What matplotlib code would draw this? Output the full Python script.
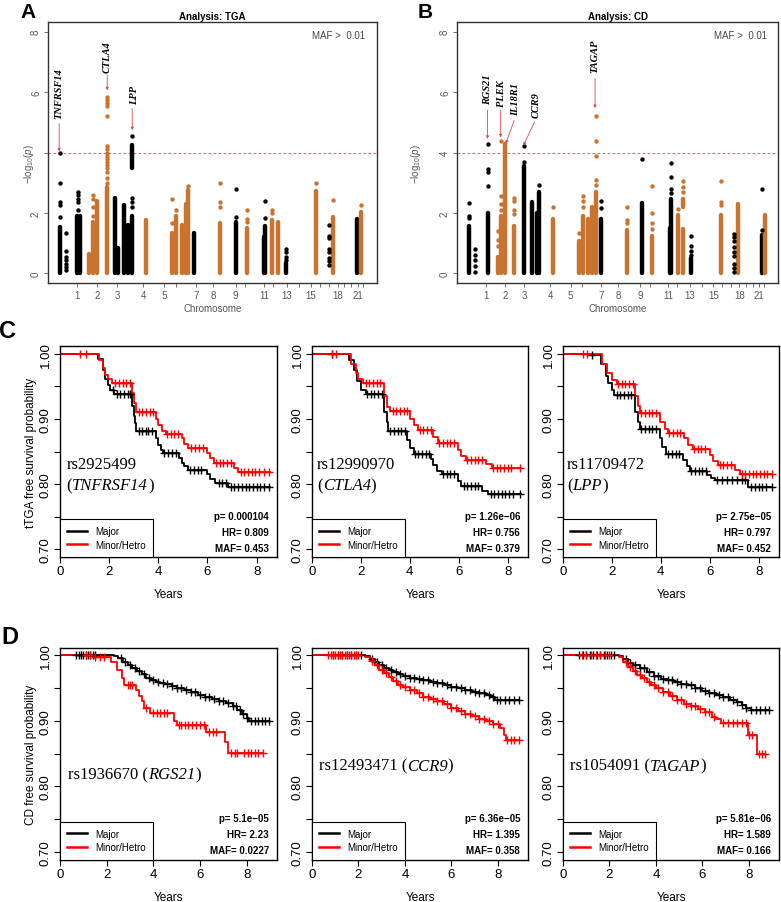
import numpy as np
import matplotlib
matplotlib.use('Agg')
import matplotlib.pyplot as plt
from matplotlib.lines import Line2D

plt.rcParams['font.family'] = ['Liberation Sans', 'DejaVu Sans']
plt.rcParams['mathtext.fontset'] = 'custom'
plt.rcParams['mathtext.rm'] = 'Liberation Sans'
plt.rcParams['mathtext.it'] = 'Liberation Sans:italic'

# ---------------- Manhattan data ----------------
chrom_pos = [8.9, 15.0, 21.0, 29.0, 35.4, 38.9, 45.0, 50.3, 57.0, 60.0, 65.8,
             68.5, 72.5, 76.2, 79.9, 82.6, 85.4, 88.0, 90.1, 92.1, 94.1, 95.6]
chrom_labels = ['1', '2', '3', '4', '5', '', '7', '8', '9', '', '11', '', '13',
                '', '15', '', '', '18', '', '', '21', '']

A_col_x = [3.5, 8.9, 9.8, 12.6, 13.8, 15.0, 18.0, 20.4, 21.4, 23.2, 24.4, 25.6,
           25.6, 29.7, 37.8, 38.9, 40.6, 42.0, 42.7, 44.5, 52.4, 57.1, 60.4,
           65.7, 66.1, 68.2, 70.0, 72.2, 81.4, 86.7, 94.0, 95.0]
A_col_lo = [0, 0, 0, 0, 0, 0, 0, 0, 0, 0, 0, 0, 3.5, 0, 0, 0, 0, 0, 0, 0, 0, 0,
            0, 0, 0, 0, 0, 0, 0, 0, 0, 0]
A_col_hi = [1.55, 1.9, 1.9, 0.65, 1.7, 2.4, 2.85, 2.5, 0.85, 2.25, 1.6, 1.9,
            4.25, 1.75, 1.35, 1.9, 1.6, 2.3, 2.75, 1.35, 1.65, 1.7, 1.5, 1.2,
            1.58, 1.76, 1.69, 0.35, 2.72, 1.87, 1.8, 2.04]
A_col_c = ['k', 'k', 'k', 'o', 'o', 'o', 'o', 'k', 'k', 'k', 'k', 'k', 'k', 'o',
           'o', 'o', 'o', 'o', 'o', 'k', 'o', 'k', 'o', 'k', 'k', 'o', 'o', 'k',
           'o', 'o', 'k', 'o']
A_pt_x = [3.5, 5.6, 9.2, 13.8, 18.0, 25.6, 37.8, 38.9, 42.7, 52.4, 57.1, 60.4,
          66.1, 68.2, 72.2, 81.4, 85.4, 86.7, 95.0]
A_pt_c = ['k', 'k', 'k', 'o', 'o', 'k', 'o', 'o', 'o', 'o', 'k', 'o', 'k', 'o',
          'k', 'o', 'k', 'o', 'o']
A_pt_y = [[1.85, 2.25, 2.35, 3.0, 3.97],
          [0.1, 0.2, 0.3, 0.45, 0.55, 0.75, 1.35],
          [2.1, 2.35, 2.45, 2.6, 2.7],
          [1.9, 2.2, 2.45, 2.6],
          [3.0, 3.15, 3.35, 3.5, 3.6, 3.7, 3.8, 3.9, 4.0, 4.1, 4.2, 5.2, 5.55,
           5.65, 5.75, 5.85],
          [2.2, 2.35, 2.5, 4.55],
          [1.65, 2.45], [2.1], [2.9],
          [2.2, 2.37, 3.0], [1.87, 2.78], [1.71, 1.8, 2.1], [1.82, 2.39],
          [2.0, 2.09], [0.45, 0.55, 0.7, 0.8], [2.99],
          [0.27, 0.4, 0.5, 0.72, 0.8, 1.18, 1.25, 1.6], [2.42], [2.26]]
A_genes = ['TNFRSF14', 'CTLA4', 'LPP']
A_gene_x = [3.4, 18.0, 26.2]
A_gene_y = [5.15, 6.67, 5.62]
A_arrow_from = [(3.4, 4.96), (18.0, 6.56), (25.6, 5.45)]
A_arrow_to = [(3.4, 4.04), (18.0, 6.06), (25.6, 4.74)]

B_col_x = [3.6, 9.6, 12.7, 13.8, 15.0, 17.9, 20.9, 23.5, 24.9, 25.7, 30.0, 38.0,
           39.2, 40.9, 42.0, 43.3, 44.8, 53.1, 57.5, 60.8, 66.3, 66.7, 68.9,
           70.4, 70.4, 72.8, 82.1, 87.5, 95.0, 95.8]
B_col_lo = [0, 0, 0, 0, 0, 0, 0, 0, 0, 0, 0, 0, 0, 0, 0, 0, 0, 0, 0, 0, 0, 0, 0,
            0, 2.2, 0, 0, 0, 0, 0]
B_col_hi = [1.57, 2.0, 0.55, 1.9, 4.28, 1.57, 3.55, 2.35, 2.0, 2.68, 1.8, 1.07,
            1.9, 1.81, 2.2, 2.68, 1.8, 1.44, 2.33, 1.22, 1.5, 2.46, 1.94, 1.48,
            2.46, 0.5, 1.92, 2.29, 1.26, 1.92]
B_col_c = ['k', 'k', 'o', 'o', 'o', 'o', 'k', 'k', 'k', 'k', 'o', 'o', 'o', 'o',
           'o', 'o', 'k', 'o', 'k', 'o', 'k', 'k', 'o', 'o', 'o', 'k', 'o', 'o',
           'k', 'o']
B_pt_x = [3.6, 5.5, 9.6, 12.7, 13.8, 17.9, 20.9, 25.7, 30.0, 38.0, 39.2, 43.3,
          44.8, 53.1, 57.5, 60.8, 66.7, 68.9, 70.4, 72.8, 82.1, 86.2, 95.0]
B_pt_c = ['k', 'k', 'k', 'o', 'o', 'o', 'k', 'k', 'o', 'o', 'o', 'o', 'k', 'o',
          'k', 'o', 'k', 'o', 'o', 'k', 'o', 'k', 'k']
B_pt_y = [[1.83, 1.9, 2.32], [0.05, 0.23, 0.45, 0.62, 0.8],
          [2.9, 3.35, 3.44, 4.27], [0.9, 1.1, 1.4], [2.1, 2.3, 2.55, 4.38],
          [1.95, 2.1, 2.4, 2.5], [3.7, 4.2], [2.93], [2.2], [1.33],
          [2.2, 2.4, 2.55], [2.93, 3.08, 3.89, 4.38, 5.22], [2.16, 2.38],
          [1.66, 1.75, 2.2], [3.79], [1.47, 1.65, 2.0, 2.9],
          [2.66, 2.8, 3.2, 3.65], [2.13], [2.7, 2.85, 3.05],
          [0.6, 0.75, 0.9, 1.22], [2.25, 2.37, 3.06],
          [0.05, 0.18, 0.32, 0.58, 0.71, 0.86, 1.08, 1.19, 1.3], [1.44, 2.79]]
B_genes = ['RGS21', 'PLEK', 'IL18R1', 'CCR9', 'TAGAP']
B_gene_x = [9.5, 13.8, 18.4, 24.7, 43.0]
B_gene_y = [5.62, 5.54, 5.23, 5.18, 6.67]
B_arrow_from = [(9.5, 5.4), (13.6, 5.4), (17.8, 5.06), (24.1, 5.0), (43.0, 6.45)]
B_arrow_to = [(9.5, 4.45), (13.6, 4.5), (15.2, 4.29), (20.7, 4.23), (43.0, 5.47)]

# ---------------- Survival data ----------------
C_major_t = [[0, 1.55, 1.75, 1.85, 1.95, 2.05, 2.2, 2.95, 3.0, 3.05, 3.1, 3.9, 4.0, 4.1, 4.2,
              4.85, 4.95, 5.05, 5.2, 6.0, 6.1, 6.3, 6.85],
             [0, 1.5, 1.7, 1.85, 2.0, 2.2, 2.95, 3.05, 3.1, 3.9, 4.0, 4.15, 4.85, 4.95,
              5.1, 5.3, 5.95, 6.1, 6.95, 7.2],
             [0, 1.05, 1.55, 1.75, 1.85, 2.0, 2.1, 2.95, 3.05, 3.15, 3.95, 4.05, 4.2,
              4.9, 5.05, 5.2, 5.9, 6.05, 6.2, 7.55]]
C_major_s = [[1.0, 0.992, 0.975, 0.962, 0.952, 0.945, 0.939, 0.92, 0.905, 0.893, 0.882,
              0.87, 0.86, 0.852, 0.848, 0.84, 0.833, 0.828, 0.822, 0.815, 0.808, 0.802, 0.795],
             [1.0, 0.99, 0.975, 0.958, 0.945, 0.938, 0.91, 0.895, 0.882, 0.868, 0.855,
              0.846, 0.838, 0.83, 0.82, 0.816, 0.805, 0.797, 0.79, 0.785],
             [1.0, 0.998, 0.985, 0.966, 0.955, 0.945, 0.936, 0.91, 0.895, 0.884, 0.87,
              0.857, 0.846, 0.837, 0.827, 0.82, 0.814, 0.81, 0.806, 0.796]]
C_minor_t = [[0, 1.6, 1.75, 1.85, 1.95, 2.1, 2.95, 3.0, 3.1, 3.9, 4.0, 4.15, 4.3, 4.95,
              5.05, 5.2, 6.0, 6.1, 6.25, 7.1, 7.25],
             [0, 1.6, 1.8, 1.9, 2.1, 2.95, 3.05, 3.2, 4.0, 4.15, 4.35, 4.95, 5.15, 5.95,
              6.1, 6.3, 7.1, 7.35],
             [0, 1.6, 1.8, 2.0, 2.2, 2.95, 3.05, 3.15, 3.95, 4.15, 4.3, 4.95, 5.1, 5.3,
              6.0, 6.15, 6.35, 7.05, 7.25]]
C_minor_s = [[1.0, 0.99, 0.978, 0.968, 0.961, 0.955, 0.94, 0.925, 0.91, 0.9, 0.89,
              0.882, 0.877, 0.87, 0.862, 0.855, 0.848, 0.84, 0.832, 0.825, 0.818],
             [1.0, 0.985, 0.97, 0.962, 0.955, 0.935, 0.918, 0.912, 0.9, 0.89, 0.883,
              0.872, 0.863, 0.852, 0.843, 0.837, 0.831, 0.825],
             [1.0, 0.985, 0.97, 0.96, 0.953, 0.935, 0.92, 0.909, 0.895, 0.885, 0.878,
              0.87, 0.86, 0.854, 0.845, 0.836, 0.829, 0.822, 0.816]]
C_end = [8.55, 8.55, 8.55]
C_major_cens = [[2.15, 2.3, 2.45, 2.6, 2.75, 2.85, 3.2, 3.35, 3.5, 3.6, 3.75, 4.25, 4.4,
                 4.55, 4.7, 5.3, 5.45, 5.6, 5.75, 6.45, 6.6, 6.75, 6.95, 7.1, 7.25, 7.4,
                 7.55, 7.7, 7.85, 8.0, 8.15, 8.3, 8.5],
                [0.8, 2.25, 2.4, 2.55, 2.7, 2.85, 3.2, 3.35, 3.5, 3.65, 3.8, 4.2, 4.35,
                 4.5, 4.65, 4.8, 5.35, 5.5, 5.65, 5.8, 6.2, 6.35, 6.5, 6.65, 6.8, 7.3,
                 7.45, 7.6, 7.75, 7.9, 8.05, 8.2, 8.5],
                [1.2, 2.2, 2.35, 2.5, 2.65, 2.8, 3.2, 3.35, 3.5, 3.65, 3.8, 4.3, 4.45,
                 4.6, 4.75, 5.25, 5.4, 5.55, 5.7, 5.85, 6.3, 6.5, 6.7, 6.9, 7.1, 7.3,
                 7.45, 7.7, 7.85, 8.0, 8.15, 8.3, 8.55]]
C_minor_cens = [[0.8, 1.05, 2.25, 2.4, 2.55, 2.7, 2.85, 3.2, 3.35, 3.5, 3.65, 3.8, 4.35,
                 4.5, 4.65, 4.8, 5.35, 5.5, 5.65, 5.8, 6.35, 6.5, 6.65, 6.8, 6.95, 7.35,
                 7.5, 7.65, 7.8, 7.95, 8.1, 8.3, 8.5],
                [0.8, 1.0, 2.2, 2.35, 2.5, 2.65, 2.8, 3.3, 3.45, 3.6, 3.75, 3.9, 4.4,
                 4.55, 4.7, 4.85, 5.2, 5.35, 5.5, 5.65, 5.8, 6.35, 6.5, 6.65, 6.8, 6.95,
                 7.4, 7.55, 7.7, 7.85, 8.0, 8.15, 8.5],
                [0.8, 1.0, 2.25, 2.4, 2.55, 2.7, 2.85, 3.2, 3.35, 3.5, 3.65, 3.8, 4.35,
                 4.5, 4.65, 4.8, 5.35, 5.5, 5.65, 5.8, 6.4, 6.55, 6.7, 6.85, 7.3, 7.45,
                 7.6, 7.75, 7.9, 8.05, 8.2, 8.35, 8.55]]
C_snp = ['rs2925499', 'rs12990970', 'rs11709472']
C_gene = ['TNFRSF14', 'CTLA4', 'LPP']
C_p = ['0.000104', '1.26e\u221206', '2.75e\u221205']
C_hr = ['0.809', '0.756', '0.797']
C_maf = ['0.453', '0.379', '0.452']

D_major_t = [[0, 2.3, 2.5, 2.7, 2.9, 3.1, 3.3, 3.5, 3.7, 3.9, 4.1, 4.3, 4.5, 4.8, 5.0,
              5.3, 5.6, 5.9, 6.2, 6.5, 6.8, 7.1, 7.4, 7.6, 7.8, 8.0, 8.1],
             [0, 2.3, 2.5, 2.7, 2.9, 3.1, 3.3, 3.5, 3.7, 3.9, 4.2, 4.5, 4.8, 5.1, 5.4,
              5.7, 6.0, 6.3, 6.6, 6.9, 7.2, 7.5, 7.7, 7.9],
             [0, 2.4, 2.6, 2.8, 3.0, 3.3, 3.6, 3.9, 4.2, 4.5, 4.8, 5.1, 5.4, 5.7, 6.0,
              6.3, 6.6, 6.9, 7.2, 7.5, 7.7, 7.9, 8.1]]
D_major_s = [[1.0, 0.999, 0.996, 0.99, 0.985, 0.98, 0.976, 0.971, 0.966, 0.962, 0.96,
              0.958, 0.956, 0.953, 0.95, 0.947, 0.944, 0.94, 0.937, 0.933, 0.93, 0.927,
              0.922, 0.917, 0.911, 0.905, 0.9],
             [1.0, 0.999, 0.995, 0.99, 0.985, 0.981, 0.978, 0.975, 0.972, 0.969, 0.966,
              0.964, 0.962, 0.96, 0.958, 0.955, 0.952, 0.95, 0.947, 0.944, 0.942, 0.94,
              0.936, 0.932],
             [1.0, 0.999, 0.994, 0.989, 0.985, 0.98, 0.974, 0.968, 0.964, 0.962, 0.959,
              0.956, 0.954, 0.95, 0.946, 0.943, 0.939, 0.936, 0.932, 0.928, 0.924, 0.92,
              0.917]]
D_minor_t = [[0, 1.4, 2.2, 2.45, 2.65, 2.75, 3.25, 3.4, 3.5, 3.6, 3.85, 4.9, 5.0, 6.25,
              7.05, 7.2],
             [0, 2.3, 2.5, 2.7, 2.9, 3.1, 3.3, 3.5, 3.7, 3.9, 4.2, 4.5, 4.8, 5.1, 5.4,
              5.7, 6.0, 6.3, 6.6, 6.9, 7.2, 7.5, 7.8, 8.1, 8.25, 8.35],
             [0, 2.4, 2.6, 2.8, 3.0, 3.2, 3.4, 3.6, 3.8, 4.0, 4.3, 4.6, 4.9, 5.2, 5.5,
              5.8, 6.1, 6.4, 6.6, 6.8, 7.95, 8.35]]
D_minor_s = [[1.0, 0.997, 0.99, 0.977, 0.965, 0.955, 0.947, 0.938, 0.93, 0.92, 0.912,
              0.9, 0.894, 0.883, 0.868, 0.851],
             [1.0, 0.998, 0.992, 0.985, 0.978, 0.973, 0.967, 0.961, 0.955, 0.951, 0.947,
              0.943, 0.937, 0.933, 0.93, 0.925, 0.92, 0.915, 0.91, 0.907, 0.903, 0.899,
              0.895, 0.889, 0.878, 0.87],
             [1.0, 0.997, 0.99, 0.982, 0.976, 0.97, 0.965, 0.96, 0.955, 0.95, 0.944,
              0.938, 0.932, 0.926, 0.922, 0.918, 0.913, 0.906, 0.902, 0.897, 0.879, 0.849]]
D_major_end = [8.95, 8.9, 8.85]
D_minor_end = [8.7, 8.9, 8.7]
D_major_cens = [[0.7, 0.8, 0.9, 1.0, 1.1, 1.2, 1.3, 1.4, 1.5, 2.6, 2.8, 3.0, 3.2, 3.4,
                 3.6, 3.8, 4.0, 4.2, 4.4, 4.6, 4.8, 5.0, 5.2, 5.4, 5.6, 5.8, 6.0, 6.2,
                 6.4, 6.6, 6.8, 7.0, 7.2, 7.4, 7.55, 7.7, 7.85, 8.0, 8.2, 8.35, 8.5,
                 8.65, 8.8, 8.95],
                [0.9, 1.1, 1.3, 1.5, 1.7, 1.9, 2.1, 2.6, 2.8, 3.0, 3.2, 3.4, 3.6, 3.8,
                 4.0, 4.2, 4.4, 4.6, 4.8, 5.0, 5.2, 5.4, 5.6, 5.8, 6.0, 6.2, 6.4, 6.6,
                 6.8, 7.0, 7.2, 7.4, 7.6, 7.8, 7.95, 8.1, 8.3, 8.5, 8.7, 8.9],
                [0.7, 0.85, 1.0, 1.15, 1.3, 1.45, 1.6, 1.75, 1.9, 2.05, 2.2, 2.7, 2.9,
                 3.1, 3.3, 3.5, 3.7, 3.9, 4.1, 4.3, 4.5, 4.7, 4.9, 5.1, 5.3, 5.5, 5.7,
                 5.9, 6.1, 6.3, 6.5, 6.7, 6.9, 7.1, 7.3, 7.5, 7.7, 7.9, 8.1, 8.3, 8.5,
                 8.7, 8.85]]
D_minor_cens = [[1.1, 1.3, 1.5, 1.7, 1.9, 2.9, 3.0, 3.1, 3.7, 4.0, 4.15, 4.3, 4.45, 4.6,
                 5.1, 5.2, 5.35, 5.5, 5.65, 5.85, 6.0, 6.15, 6.4, 6.55, 6.7, 7.35, 7.5,
                 7.6, 7.9, 8.05, 8.2, 8.35, 8.5, 8.7],
                [0.7, 0.8, 0.9, 1.0, 1.1, 1.2, 1.3, 1.4, 1.5, 1.6, 1.7, 1.8, 1.9, 2.0,
                 2.6, 2.8, 3.0, 3.2, 3.4, 3.6, 3.8, 4.0, 4.2, 4.4, 4.6, 4.8, 5.0, 5.2,
                 5.4, 5.6, 5.8, 6.0, 6.2, 6.4, 6.6, 6.8, 7.0, 7.2, 7.4, 7.6, 7.8, 8.0,
                 8.4, 8.55, 8.7, 8.9],
                [0.8, 1.0, 1.2, 1.4, 1.6, 1.8, 2.0, 2.7, 2.9, 3.1, 3.3, 3.5, 3.7, 3.9,
                 4.1, 4.3, 4.5, 4.7, 4.9, 5.1, 5.3, 5.5, 5.7, 5.9, 6.1, 6.3, 6.5, 6.9,
                 7.1, 7.3, 7.5, 7.7, 7.9, 8.0, 8.15, 8.45, 8.55, 8.7]]
D_snp = ['rs1936670', 'rs12493471', 'rs1054091']
D_gene = ['RGS21', 'CCR9', 'TAGAP']
D_p = ['5.1e\u221205', '6.36e\u221205', '5.81e\u221206']
D_hr = ['2.23', '1.395', '1.589']
D_maf = ['0.0227', '0.358', '0.166']

# ---------------- layout ----------------
W, H = 781, 903
fig = plt.figure(figsize=(W / 100, H / 100), dpi=100)


def ax_px(l, t, r, b):
    return fig.add_axes([l / W, 1 - b / H, (r - l) / W, (b - t) / H])


ORANGE = '#C9732F'
GRAY = '#555555'
ARROW = '#E0474C'


def manhattan(ax, title, cx, clo, chi, cc, px, pc, py, genes, gx, gy, afrom, ato,
              ylab_x, show4):
    cmap = {'k': 'black', 'o': ORANGE}
    lc = ax.vlines(cx, clo, chi, colors=[cmap[c] for c in cc], lw=3.2)
    lc.set_capstyle('round')
    for x, c, ys in zip(px, pc, py):
        ax.scatter([x] * len(ys), ys, s=10, color=cmap[c], linewidths=0, zorder=3)
    ax.axhline(4, color='#E8686A', lw=0.8, ls=(0, (2.5, 2.0)), zorder=1)
    for g, x, y in zip(genes, gx, gy):
        ax.text(x, y, g, rotation=90, ha='center', va='bottom', fontsize=7.5,
                family='Liberation Serif', style='italic', weight='bold')
    for a, b in zip(afrom, ato):
        ax.annotate('', xy=b, xytext=a,
                    arrowprops=dict(arrowstyle='-|>', color=ARROW, lw=0.6,
                                    mutation_scale=4, shrinkA=0, shrinkB=0))
    ax.set_xlim(0, 100)
    ax.set_ylim(-0.32, 8.32)
    ax.set_xticks(chrom_pos)
    ax.set_xticklabels(chrom_labels)
    ax.set_yticks([0, 2, 4, 6, 8])
    ax.set_yticklabels(['0', '2', '4' if show4 else '', '6', '8'], rotation=90,
                       va='center')
    ax.tick_params(axis='both', colors=GRAY, labelsize=7, length=3, width=0.6, pad=2)
    for s in ax.spines.values():
        s.set_color('#333333')
        s.set_linewidth(1.0)
    ax.set_title(title, fontsize=7, fontweight='bold', pad=2)
    ax.text(0.965, 0.95, 'MAF >  0.01', transform=ax.transAxes, ha='right',
            va='center', fontsize=7, color='#444444')
    ax.set_xlabel('Chromosome', fontsize=7, color=GRAY, labelpad=2)
    ax.set_ylabel(r'$-\mathrm{log}_{10}(p)$', fontsize=7, color=GRAY)
    ax.yaxis.set_label_coords(ylab_x, 0.46)


axA = ax_px(48, 23, 377, 284)
manhattan(axA, 'Analysis: TGA', A_col_x, A_col_lo, A_col_hi, A_col_c, A_pt_x,
          A_pt_c, A_pt_y, A_genes, A_gene_x, A_gene_y, A_arrow_from, A_arrow_to,
          -0.035, False)
axB = ax_px(457, 23, 778, 284)
manhattan(axB, 'Analysis: CD', B_col_x, B_col_lo, B_col_hi, B_col_c, B_pt_x,
          B_pt_c, B_pt_y, B_genes, B_gene_x, B_gene_y, B_arrow_from, B_arrow_to,
          -0.105, True)


def km_curve(ax, t, s, tend, color):
    ax.step(list(t) + [tend], list(s) + [s[-1]], where='post', color=color, lw=1.3)


def km_cens(ax, t, s, cens, color):
    idx = np.searchsorted(np.array(t), np.array(cens), side='right') - 1
    ax.plot(cens, np.array(s)[idx], ls='none', marker='+', color=color, ms=5.5, mew=1.0)


def rich(ax, x, y, parts):
    kw = dict(fontsize=12, family='Liberation Serif')
    t = ax.text(x, y, parts[0][0], transform=ax.transAxes, ha='left', va='center',
                style=parts[0][1], **kw)
    for s, st in parts[1:]:
        t = ax.annotate(s, xy=(1, 0), xycoords=t, ha='left', va='bottom',
                        style=st, **kw)


def km_axes(ax, xmax, ylabel, p, hr, maf):
    ax.set_xlim(0, xmax)
    ax.set_ylim(0.688, 1.012)
    ax.set_xticks([0, 2, 4, 6, 8])
    ax.set_yticks([0.70, 0.75, 0.80, 0.85, 0.90, 0.95, 1.00])
    ax.set_yticklabels(['0.70', '', '0.80', '', '0.90', '', '1.00'], rotation=90,
                       va='center')
    ax.tick_params(axis='both', labelsize=9.5, length=4, width=0.8, pad=2)
    for s in ax.spines.values():
        s.set_linewidth(1.0)
    ax.set_xlabel('Years', fontsize=8.5, labelpad=8)
    if ylabel:
        ax.set_ylabel(ylabel, fontsize=8.5, labelpad=2)
    for yy, txt in zip([0.195, 0.12, 0.045], ['p= ' + p, 'HR= ' + hr, 'MAF= ' + maf]):
        ax.text(0.963, yy, txt, transform=ax.transAxes, ha='right', va='center',
                fontsize=7, fontweight='bold')
    handles = [Line2D([], [], color='black', lw=1.8), Line2D([], [], color='red', lw=1.8)]
    leg = ax.legend(handles, ['Major', 'Minor/Hetro'], loc='lower left',
                    bbox_to_anchor=(0, 0), borderaxespad=0, fancybox=False,
                    edgecolor='black', framealpha=1, fontsize=7, handlelength=2.0,
                    handletextpad=0.9, borderpad=0.75, labelspacing=0.35)
    leg.get_frame().set_linewidth(0.8)


C_lr = [(60, 277), (312, 528), (563, 779)]
for i in range(3):
    ax = ax_px(C_lr[i][0], 347, C_lr[i][1], 558)
    km_curve(ax, C_major_t[i], C_major_s[i], C_end[i], 'black')
    km_curve(ax, C_minor_t[i], C_minor_s[i], C_end[i], 'red')
    km_cens(ax, C_major_t[i], C_major_s[i], C_major_cens[i], 'black')
    km_cens(ax, C_minor_t[i], C_minor_s[i], C_minor_cens[i], 'red')
    km_axes(ax, 8.83, 'tTGA free survival probability' if i == 0 else None,
            C_p[i], C_hr[i], C_maf[i])
    xs = [0.031, 0.023, 0.018][i]
    rich(ax, xs, 0.441, [(C_snp[i], 'normal')])
    rich(ax, xs, 0.341, [('(', 'normal'), (C_gene[i], 'italic'), (')', 'normal')])

for i in range(3):
    ax = ax_px(C_lr[i][0], 648.5, C_lr[i][1], 860.5)
    km_curve(ax, D_major_t[i], D_major_s[i], D_major_end[i], 'black')
    km_curve(ax, D_minor_t[i], D_minor_s[i], D_minor_end[i], 'red')
    km_cens(ax, D_major_t[i], D_major_s[i], D_major_cens[i], 'black')
    km_cens(ax, D_minor_t[i], D_minor_s[i], D_minor_cens[i], 'red')
    km_axes(ax, 9.3, 'CD free survival probability' if i == 0 else None,
            D_p[i], D_hr[i], D_maf[i])
    xs = [0.038, 0.031, 0.031][i]
    ys = [0.403, 0.442, 0.442][i]
    rich(ax, xs, ys, [(D_snp[i] + ' (', 'normal'), (D_gene[i], 'italic'),
                      (')', 'normal')])

# panel letters
for lab, x, y, fs in [('A', 28, 12, 15), ('B', 425, 12, 15), ('C', 7, 332, 17),
                      ('D', 10, 638, 17)]:
    fig.text(x / W, 1 - y / H, lab, fontsize=fs, fontweight='bold', ha='center',
             va='center')

fig.savefig('out.png', dpi=100)
